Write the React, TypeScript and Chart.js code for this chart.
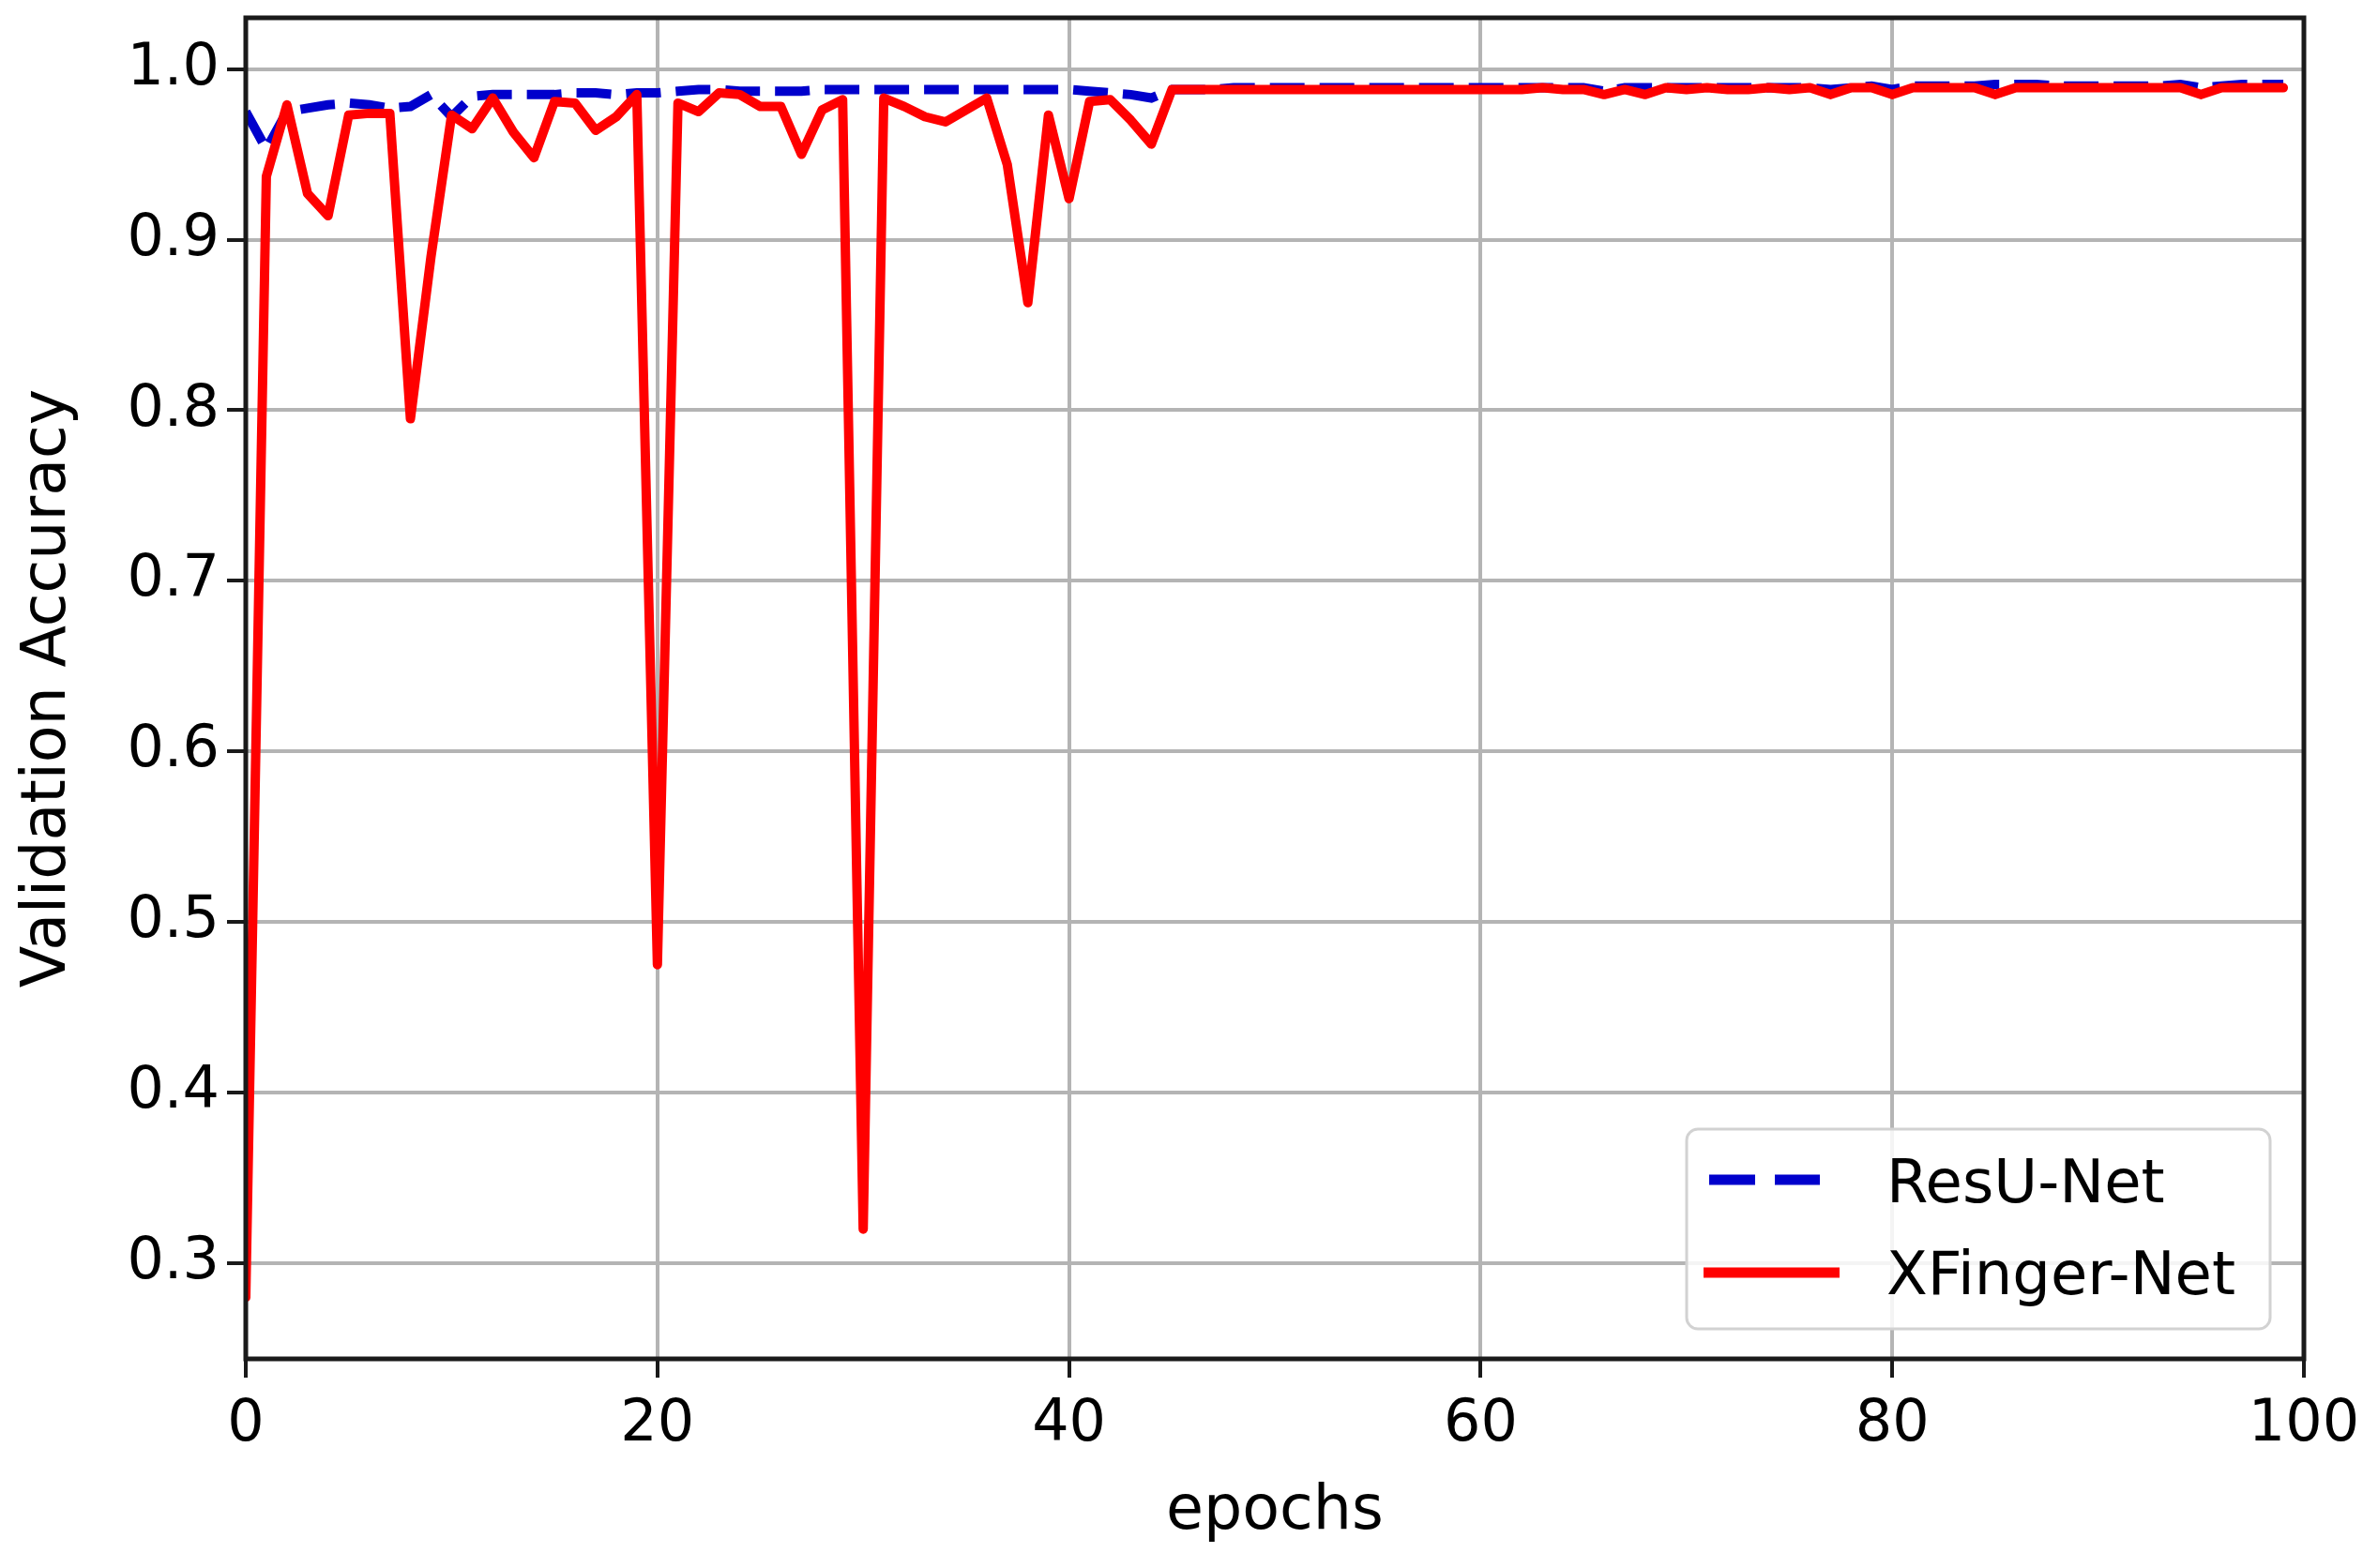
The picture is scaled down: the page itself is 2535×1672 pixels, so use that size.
import React, { useEffect, useRef } from 'react';
import { Chart, registerables } from 'chart.js';

Chart.register(...registerables);

// ---- data ----
const seriesLabels = ['ResU-Net', 'XFinger-Net'];

const resUNet = [
  0.975, 0.953, 0.975, 0.977, 0.979, 0.98, 0.979, 0.977, 0.978, 0.985,
  0.972, 0.984, 0.985, 0.985, 0.985, 0.985, 0.986, 0.986, 0.985, 0.986,
  0.986, 0.987, 0.988, 0.988, 0.987, 0.987, 0.987, 0.987, 0.988, 0.988,
  0.988, 0.988, 0.988, 0.988, 0.988, 0.988, 0.988, 0.988, 0.988, 0.988,
  0.988, 0.987, 0.986, 0.985, 0.983, 0.988, 0.988, 0.988, 0.989, 0.989,
  0.989, 0.989, 0.989, 0.989, 0.989, 0.989, 0.989, 0.989, 0.989, 0.989,
  0.989, 0.989, 0.989, 0.989, 0.989, 0.989, 0.987, 0.989, 0.989, 0.989,
  0.989, 0.989, 0.989, 0.989, 0.989, 0.989, 0.989, 0.988, 0.989, 0.99,
  0.988, 0.99, 0.99, 0.99, 0.99, 0.991, 0.991, 0.991, 0.99, 0.99,
  0.99, 0.99, 0.99, 0.99, 0.991, 0.989, 0.99, 0.991, 0.991, 0.991,
];

const xFingerNet = [
  0.28, 0.937, 0.979, 0.927, 0.914, 0.973, 0.974, 0.974, 0.795, 0.89,
  0.973, 0.965, 0.983, 0.963, 0.948, 0.981, 0.98, 0.964, 0.972, 0.985,
  0.475, 0.98, 0.975, 0.986, 0.985, 0.978, 0.978, 0.95, 0.976, 0.982,
  0.32, 0.983, 0.978, 0.972, 0.969, 0.976, 0.983, 0.944, 0.863, 0.973,
  0.924, 0.981, 0.982, 0.97, 0.956, 0.988, 0.988, 0.988, 0.988, 0.988,
  0.988, 0.988, 0.988, 0.988, 0.988, 0.988, 0.988, 0.988, 0.988, 0.988,
  0.988, 0.988, 0.988, 0.989, 0.988, 0.988, 0.985, 0.988, 0.985, 0.989,
  0.988, 0.989, 0.988, 0.988, 0.989, 0.988, 0.989, 0.985, 0.989, 0.989,
  0.985, 0.989, 0.989, 0.989, 0.989, 0.985, 0.989, 0.989, 0.989, 0.989,
  0.989, 0.989, 0.989, 0.989, 0.989, 0.985, 0.989, 0.989, 0.989, 0.989,
];

const epochs = xFingerNet.map((_, i) => i);

const xTickValues = [0, 20, 40, 60, 80, 100];
const yTickValues = [0.3, 0.4, 0.5, 0.6, 0.7, 0.8, 0.9, 1.0];

const xTitle = 'epochs';
const yTitle = 'Validation Accuracy';

const BLUE = '#0000cc';
const RED = '#ff0000';
const FONT = '"DejaVu Sans", sans-serif';

const framePlugin = {
  id: 'frameAndLegend',
  afterDatasetsDraw(chart: any) {
    const { ctx, chartArea: a } = chart;
    ctx.save();
    // spines
    ctx.strokeStyle = '#1a1a1a';
    ctx.lineWidth = 5;
    ctx.strokeRect(a.left, a.top, a.right - a.left, a.bottom - a.top);

    // legend box
    const L = a.right - 658;
    const T = a.bottom - 245;
    const W = 622;
    const H = 213;
    ctx.beginPath();
    ctx.roundRect(L, T, W, H, 12);
    ctx.fillStyle = 'rgba(255,255,255,0.85)';
    ctx.fill();
    ctx.strokeStyle = '#d2d2d2';
    ctx.lineWidth = 3;
    ctx.stroke();

    // blue dashed sample
    ctx.lineWidth = 11;
    ctx.lineCap = 'butt';
    ctx.strokeStyle = BLUE;
    ctx.setLineDash([49, 21]);
    ctx.beginPath();
    ctx.moveTo(L + 24, T + 54);
    ctx.lineTo(L + 142, T + 54);
    ctx.stroke();
    ctx.setLineDash([]);

    // red sample
    ctx.strokeStyle = RED;
    ctx.beginPath();
    ctx.moveTo(L + 18, T + 153);
    ctx.lineTo(L + 163, T + 153);
    ctx.stroke();

    ctx.fillStyle = '#000';
    ctx.font = `64px ${FONT}`;
    ctx.textAlign = 'left';
    ctx.textBaseline = 'alphabetic';
    ctx.fillText(seriesLabels[0], L + 213, T + 78);
    ctx.fillText(seriesLabels[1], L + 213, T + 176);
    ctx.restore();
  },
};

export default function App() {
  const ref = useRef<HTMLCanvasElement | null>(null);

  useEffect(() => {
    if (!ref.current) return;
    const chart = new Chart(ref.current, {
      type: 'line',
      data: {
        datasets: [
          {
            label: seriesLabels[1],
            data: epochs.map((e, i) => ({ x: e, y: xFingerNet[i] })),
            borderColor: RED,
            borderWidth: 10,
            pointRadius: 0,
            tension: 0,
            borderJoinStyle: 'round',
            borderCapStyle: 'round',
            fill: false,
          },
          {
            label: seriesLabels[0],
            data: epochs.map((e, i) => ({ x: e, y: resUNet[i] })),
            borderColor: BLUE,
            borderWidth: 10,
            borderDash: [37, 16],
            pointRadius: 0,
            tension: 0,
            borderCapStyle: 'butt',
            fill: false,
          },
        ],
      },
      options: {
        responsive: false,
        animation: false,
        events: [],
        layout: { padding: { top: 19, right: 79, left: 0, bottom: 0 } },
        plugins: {
          legend: { display: false },
          tooltip: { enabled: false },
          title: { display: false },
        },
        scales: {
          x: {
            type: 'linear',
            min: 0,
            max: 100,
            afterFit: (s: any) => {
              s.height = 223;
              s.paddingLeft = 0;
              s.paddingRight = 0;
            },
            afterBuildTicks: (s: any) => { s.ticks = xTickValues.map((v) => ({ value: v })); },
            grid: {
              color: '#b4b4b4',
              lineWidth: 4,
              drawTicks: true,
              tickLength: 20,
              tickColor: '#1a1a1a',
              tickWidth: 4,
            },
            border: { display: false },
            ticks: {
              color: '#000',
              font: { family: FONT, size: 62 },
              padding: 14,
              maxRotation: 0,
              callback: (v: any) => String(v),
            },
            title: {
              display: true,
              text: xTitle,
              color: '#000',
              font: { family: FONT, size: 65, lineHeight: 1.2 },
              padding: { top: 0, bottom: 20 },
            },
          },
          y: {
            type: 'linear',
            min: 0.244,
            max: 1.03,
            afterFit: (s: any) => {
              s.width = 262;
              s.paddingTop = 0;
              s.paddingBottom = 0;
            },
            afterBuildTicks: (s: any) => { s.ticks = yTickValues.map((v) => ({ value: v })); },
            grid: {
              color: '#b4b4b4',
              lineWidth: 4,
              drawTicks: true,
              tickLength: 20,
              tickColor: '#1a1a1a',
              tickWidth: 4,
            },
            border: { display: false },
            ticks: {
              color: '#000',
              font: { family: FONT, size: 62 },
              padding: 8,
              callback: (v: any) => Number(v).toFixed(1),
            },
            title: {
              display: true,
              text: yTitle,
              color: '#000',
              font: { family: FONT, size: 65, lineHeight: 1.2 },
              padding: { top: 13, bottom: 0 },
            },
          },
        },
      },
      plugins: [framePlugin],
    });
    return () => chart.destroy();
  }, []);

  return (
    <div style={{ position: 'fixed', left: 0, top: 0, width: 2535, height: 1672, background: '#fff' }}>
      <canvas ref={ref} width={2535} height={1672} style={{ width: 2535, height: 1672, display: 'block' }} />
    </div>
  );
}
